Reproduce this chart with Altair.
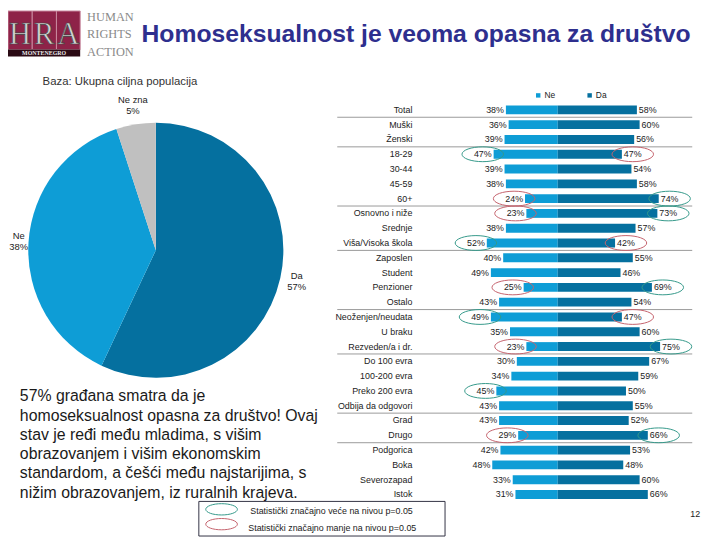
import altair as alt
import pandas as pd
import math

# ---------------- data ----------------
categories = ["Total", "Muški", "Ženski", "18-29", "30-44", "45-59", "60+",
              "Osnovno i niže", "Srednje", "Viša/Visoka škola", "Zaposlen", "Student",
              "Penzioner", "Ostalo", "Neoženjen/neudata", "U braku", "Rezveden/a i dr.",
              "Do 100 evra", "100-200 evra", "Preko 200 evra", "Odbija da odgovori",
              "Grad", "Drugo", "Podgorica", "Boka", "Severozapad", "Istok"]
ne_values = [38, 36, 39, 47, 39, 38, 24, 23, 38, 52, 40, 49, 25, 43, 49, 35, 23,
             30, 34, 45, 43, 43, 29, 42, 48, 33, 31]
da_values = [58, 60, 56, 47, 54, 58, 74, 73, 57, 42, 55, 46, 69, 54, 47, 60, 75,
             67, 59, 50, 55, 52, 66, 53, 48, 60, 66]
group_ends = ["Total", "Ženski", "60+", "Viša/Visoka škola", "Ostalo",
              "Rezveden/a i dr.", "Odbija da odgovori", "Drugo"]
sig_higher = [("18-29", "Ne"), ("60+", "Da"), ("Osnovno i niže", "Da"),
              ("Viša/Visoka škola", "Ne"), ("Penzioner", "Da"), ("Neoženjen/neudata", "Ne"),
              ("Rezveden/a i dr.", "Da"), ("Preko 200 evra", "Ne"), ("Drugo", "Da")]
sig_lower = [("18-29", "Da"), ("60+", "Ne"), ("Osnovno i niže", "Ne"),
             ("Viša/Visoka škola", "Da"), ("Penzioner", "Ne"), ("Neoženjen/neudata", "Da"),
             ("Rezveden/a i dr.", "Ne"), ("Drugo", "Ne")]
bar_sides = ["Ne", "Da"]
sig_kinds = ["Statistički značajno veće na nivou p=0.05",
             "Statistički značajno manje na nivou p=0.05"]
pie_labels = ["Da", "Ne", "Ne zna"]
pie_values = [57, 38, 5]
title_text = "Homoseksualnost je veoma opasna za društvo"
base_text = "Baza: Ukupna ciljna populacija"
body_lines = ["57% građana smatra da je",
              "homoseksualnost opasna za društvo! Ovaj",
              "stav je ređi među mladima, s višim",
              "obrazovanjem i višim ekonomskim",
              "standardom, a češći među najstarijima, s",
              "nižim obrazovanjem, iz ruralnih krajeva."]
logo_letters = ["H", "R", "A"]
logo_words = ["HUMAN", "RIGHTS", "ACTION"]
page_number = "12"

# ---------------- styles ----------------
C_NE = "#0e9dd6"
C_DA = "#05709f"
C_NZ = "#c0c0c0"
C_UP = "#35998a"
C_DN = "#c4626c"
C_TXT = "#222222"
FONT = "Liberation Sans"
SERIF = "Liberation Serif"
ELLIPSE = ("M-1,0C-1,-0.197,-0.552,-0.357,0,-0.357C0.552,-0.357,1,-0.197,1,0"
           "C1,0.197,0.552,0.357,0,0.357C-0.552,0.357,-1,0.197,-1,0Z")
PIE_LABEL_RADIUS = {"Da": 146, "Ne": 139, "Ne zna": 148}


def P(v):
    # reference-page pixel -> chart pixel (page has an 8px margin)
    return v - 8


# ---------------- tables ----------------
bars = pd.DataFrame([{"cat": c, "side": s, "v": v}
                     for c, n, d in zip(categories, ne_values, da_values)
                     for s, v in (("Ne", n), ("Da", d))])
ne_map = dict(zip(categories, ne_values))
da_map = dict(zip(categories, da_values))
sig = pd.DataFrame(
    [{"cat": c, "side": s, "kind": sig_kinds[0], "v": ne_map[c] if s == "Ne" else da_map[c]} for c, s in sig_higher]
    + [{"cat": c, "side": s, "kind": sig_kinds[1], "v": ne_map[c] if s == "Ne" else da_map[c]} for c, s in sig_lower])
pie = pd.DataFrame({"label": pie_labels, "v": pie_values, "ord": list(range(len(pie_labels)))})
pie_total = sum(pie_values)

x_scale = alt.Scale(domain=[-100, 100], range=[P(564) - 138, P(564) + 138])
step = (497 - 108) / 26
y_scale = alt.Scale(domain=categories, range=[P(108) - step / 2, P(497) + step / 2],
                    paddingInner=0.4, paddingOuter=0.2)
Y = alt.Y("cat:N", scale=y_scale, axis=None)
theta_scale = alt.Scale(domain=[0, pie_total], range=[0, 2 * math.pi])

# ---------------- pie ----------------
pie_cx, pie_cy, pie_r = P(157.5), P(250), 129
pie_arc = alt.Chart(pie).mark_arc(radius=pie_r).encode(
    theta=alt.Theta("v:Q", stack=True, scale=theta_scale),
    order=alt.Order("ord:Q"),
    color=alt.Color("label:N", scale=alt.Scale(domain=pie_labels, range=[C_DA, C_NE, C_NZ]), legend=None),
    x=alt.value(pie_cx), y=alt.value(pie_cy))
radius_expr = " : ".join(
    f"datum.label == '{k}' ? {v}" for k, v in PIE_LABEL_RADIUS.items()) + " : 146"
pie_txt = alt.Chart(pie).transform_stack(
    stack="v", groupby=[], as_=["s0", "s1"], sort=[alt.SortField("ord", order="ascending")]
).transform_calculate(
    mid="(datum.s0 + datum.s1) / 2",
    t="datum.label + '\\n' + datum.v + '%'",
    r=radius_expr
).mark_text(lineBreak="\n", fontSize=9.5, font=FONT, color=C_TXT, lineHeight=11.5, dy=-6).encode(
    theta=alt.Theta("mid:Q", stack=None, scale=theta_scale),
    radius=alt.Radius("r:Q", scale=None, stack=None),
    text="t:N",
    x=alt.value(pie_cx), y=alt.value(pie_cy))

# ---------------- bars ----------------
bar_layer = alt.Chart(bars).transform_calculate(
    x0="datum.side == 'Ne' ? -datum.v : 0",
    x1="datum.side == 'Ne' ? 0 : datum.v"
).mark_bar().encode(
    x=alt.X("x0:Q", scale=x_scale, axis=None),
    x2="x1:Q",
    y=Y,
    color=alt.Color("side:N", title=None,
                    scale=alt.Scale(domain=bar_sides, range=[C_NE, C_DA]),
                    legend=alt.Legend(orient="none", legendX=P(540), legendY=P(89),
                                      direction="horizontal", symbolType="square",
                                      symbolSize=20, symbolStrokeWidth=0, labelFontSize=8.5,
                                      labelFont=FONT, labelColor=C_TXT, labelOffset=2,
                                      columnPadding=30, padding=0)))

ne_lbl = alt.Chart(bars).transform_filter("datum.side == 'Ne'").transform_calculate(
    x="-datum.v", t="datum.v + '%'"
).mark_text(align="right", dx=-2, fontSize=9, font=FONT, color=C_TXT).encode(
    x=alt.X("x:Q", scale=x_scale, axis=None), y=Y, text="t:N")
da_lbl = alt.Chart(bars).transform_filter("datum.side == 'Da'").transform_calculate(
    x="datum.v", t="datum.v + '%'"
).mark_text(align="left", dx=2, fontSize=9, font=FONT, color=C_TXT).encode(
    x=alt.X("x:Q", scale=x_scale, axis=None), y=Y, text="t:N")

cat_lbl = alt.Chart(pd.DataFrame({"cat": categories})).mark_text(
    align="right", fontSize=9, font=FONT, color=C_TXT
).encode(x=alt.value(P(417)), y=Y, text="cat:N")

seps = alt.Chart(pd.DataFrame({"cat": group_ends})).mark_rule(
    color="#9a9a9a", strokeWidth=1, yOffset=step / 2
).encode(y=Y, x=alt.value(P(341)), x2=alt.value(P(700)))

ell_common = dict(shape=ELLIPSE, size=1764, filled=False, strokeWidth=1, opacity=1)
ell_stroke = alt.Stroke("kind:N", scale=alt.Scale(domain=sig_kinds, range=[C_UP, C_DN]), legend=None)
ell_ne = alt.Chart(sig).transform_filter("datum.side == 'Ne'").transform_calculate(
    x="-datum.v").mark_point(xOffset=-11, **ell_common).encode(
    x=alt.X("x:Q", scale=x_scale, axis=None), y=Y, stroke=ell_stroke)
ell_da = alt.Chart(sig).transform_filter("datum.side == 'Da'").transform_calculate(
    x="datum.v").mark_point(xOffset=11, **ell_common).encode(
    x=alt.X("x:Q", scale=x_scale, axis=None), y=Y, stroke=ell_stroke)

# ---------------- bottom significance legend ----------------
leg_box = alt.Chart(pd.DataFrame({"a": [0]})).mark_rect(
    fillOpacity=0, stroke="#333344", strokeWidth=1
).encode(x=alt.value(P(201)), x2=alt.value(P(450)), y=alt.value(P(504)), y2=alt.value(P(539)))
leg_rows = pd.DataFrame({"kind": sig_kinds})
leg_e1 = alt.Chart(leg_rows).transform_filter(alt.datum.kind == sig_kinds[0]).mark_point(
    shape=ELLIPSE, size=1024, filled=False, strokeWidth=1, opacity=1, color=C_UP
).encode(x=alt.value(P(224)), y=alt.value(P(512)))
leg_e2 = alt.Chart(leg_rows).transform_filter(alt.datum.kind == sig_kinds[1]).mark_point(
    shape=ELLIPSE, size=1024, filled=False, strokeWidth=1, opacity=1, color=C_DN
).encode(x=alt.value(P(224)), y=alt.value(P(527)))
leg_t1 = alt.Chart(leg_rows).transform_filter(alt.datum.kind == sig_kinds[0]).mark_text(
    align="left", fontSize=9, font=FONT, color=C_TXT
).encode(x=alt.value(P(253)), y=alt.value(P(514)), text="kind:N")
leg_t2 = alt.Chart(leg_rows).transform_filter(alt.datum.kind == sig_kinds[1]).mark_text(
    align="left", fontSize=9, font=FONT, color=C_TXT
).encode(x=alt.value(P(251)), y=alt.value(P(531)), text="kind:N")

# ---------------- texts ----------------
title = alt.Chart(pd.DataFrame({"t": [title_text]})).mark_text(
    align="left", baseline="alphabetic", fontSize=25, fontWeight="bold", font=FONT, color="#2e2f8e"
).encode(x=alt.value(P(143)), y=alt.value(P(39.5)), text="t:N")
base = alt.Chart(pd.DataFrame({"t": [base_text]})).mark_text(
    align="left", baseline="middle", fontSize=11.5, font=FONT, color="#333333"
).encode(x=alt.value(P(43)), y=alt.value(P(80)), text="t:N")
body = alt.Chart(pd.DataFrame({"t": ["\n".join(body_lines)]})).mark_text(
    align="left", baseline="alphabetic", fontSize=16, font=FONT, color="#1a1a1a",
    lineBreak="\n", lineHeight=19.5
).encode(x=alt.value(P(20)), y=alt.value(P(402.7)), text="t:N")
page = alt.Chart(pd.DataFrame({"t": [page_number]})).mark_text(
    align="center", fontSize=9, font=FONT, color=C_TXT
).encode(x=alt.value(P(703)), y=alt.value(P(517)), text="t:N")

# ---------------- logo ----------------
logo_layers = []
box_edges = [8, 32.5, 57, 81]
for i, letter in enumerate(logo_letters):
    x0, x1 = box_edges[i], box_edges[i + 1]
    logo_layers.append(alt.Chart(pd.DataFrame({"t": [letter]})).mark_rect(
        fill="#8e2348", stroke="#c98aa0", strokeWidth=1
    ).encode(x=alt.value(P(x0)), x2=alt.value(P(x1)), y=alt.value(P(8)), y2=alt.value(P(47))))
    logo_layers.append(alt.Chart(pd.DataFrame({"t": [letter]})).mark_text(
        align="center", baseline="alphabetic", fontSize=31, font=SERIF,
        fill="#d2d2d2", stroke="#444444", strokeWidth=0.7
    ).encode(x=alt.value(P((x0 + x1) / 2)), y=alt.value(P(41)), text="t:N"))
logo_layers.append(alt.Chart(pd.DataFrame({"t": ["MONTENEGRO"]})).mark_rect(
    fill="#2a0a14").encode(x=alt.value(P(8)), x2=alt.value(P(81)), y=alt.value(P(47)), y2=alt.value(P(54))))
logo_layers.append(alt.Chart(pd.DataFrame({"t": ["MONTENEGRO"]})).mark_text(
    align="center", baseline="middle", fontSize=6, fontWeight="bold", font=SERIF, color="#e8e8e8"
).encode(x=alt.value(P(44.5)), y=alt.value(P(50.7)), text="t:N"))
for word, yb in zip(logo_words, [18, 35.5, 53.3]):
    logo_layers.append(alt.Chart(pd.DataFrame({"t": [word]})).mark_text(
        align="left", baseline="alphabetic", fontSize=12.5, font=SERIF, color="#8a8a8a"
    ).encode(x=alt.value(P(88)), y=alt.value(P(yb)), text="t:N"))

layers = [pie_arc, pie_txt, seps, bar_layer, ne_lbl, da_lbl, cat_lbl, ell_ne, ell_da,
          leg_box, leg_e1, leg_e2, leg_t1, leg_t2, title, base, body, page] + logo_layers

chart = alt.layer(*layers).resolve_scale(color="independent").properties(
    width=712, height=532, autosize=alt.AutoSizeParams(type="none"), padding=0
).configure_view(stroke=None)

chart.save("out.html", embed_options={"renderer": "svg", "actions": False})
